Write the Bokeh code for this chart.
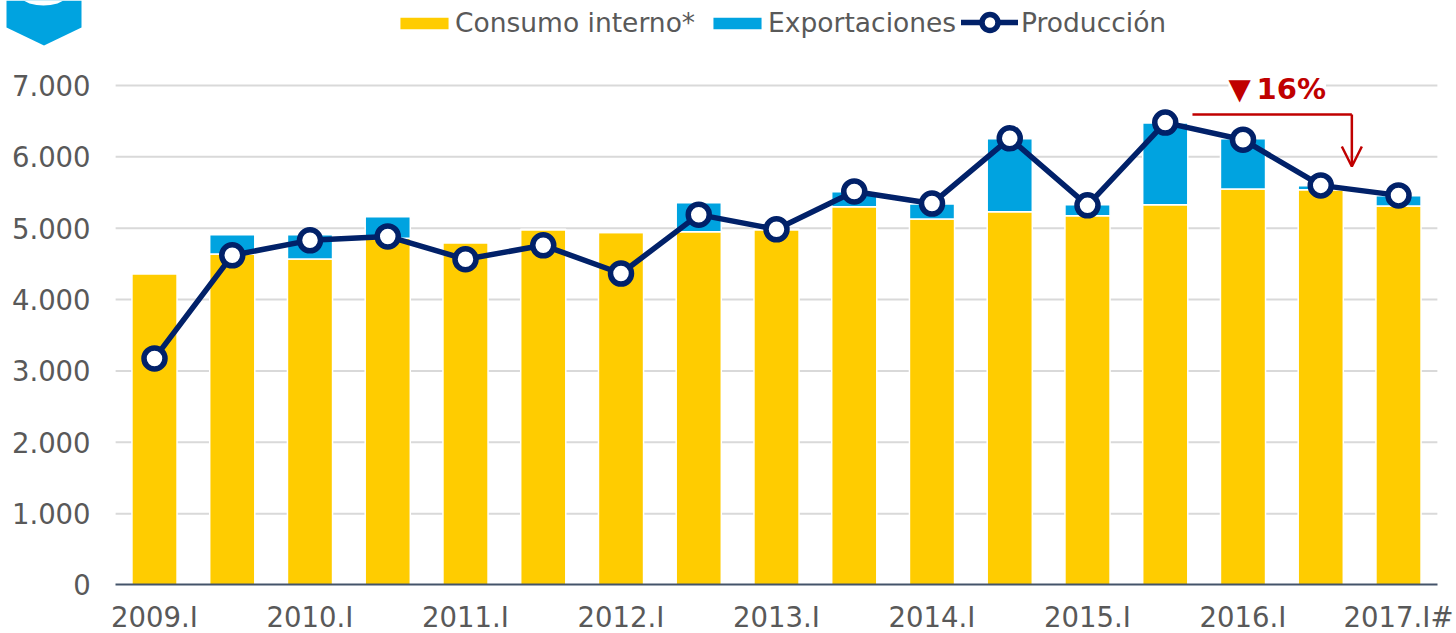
from bokeh.plotting import figure
from bokeh.models import (ColumnDataSource, Legend, LegendItem, FixedTicker, Label, Arrow, OpenHead,
                          PolyAnnotation, Range1d)
from bokeh.embed import file_html
from bokeh.resources import INLINE

periods = ["2009.I","2009.II","2010.I","2010.II","2011.I","2011.II","2012.I","2012.II","2013.I",
           "2013.II","2014.I","2014.II","2015.I","2015.II","2016.I","2016.II","2017.I#"]
consumo = [4360,4640,4570,4860,4795,4980,4940,4950,4980,5300,5130,5230,5175,5330,5550,5540,5310]
exportaciones = [0,270,340,300,5,5,5,405,5,210,210,1025,155,1145,705,55,145]
produccion = [3175,4620,4830,4885,4565,4760,4365,5190,4985,5515,5345,6260,5320,6480,6240,5600,5460]
yticks = [0,1000,2000,3000,4000,5000,6000,7000]
ylabels = ["0","1.000","2.000","3.000","4.000","5.000","6.000","7.000"]
bracket_x = [13.35,15.4]
bracket_y = [6593,6593]
arrow_end_y = 5865

YEL, BLU, NAVY, RED, GREY = "#ffcc00", "#00a3e0", "#012169", "#c00000", "#595959"
FONT = "DejaVu Sans"
idx = list(range(len(periods)))

W, H = 1456, 633
p = figure(width=W, height=H, output_backend="svg", toolbar_location=None,
           x_range=Range1d(-1.9807,16.746), y_range=Range1d(-679.7,8191),
           min_border_left=0, min_border_right=0, min_border_top=0, min_border_bottom=0,
           outline_line_color=None, background_fill_color="white")

src = ColumnDataSource(dict(x=idx, consumo=consumo, exportaciones=exportaciones, produccion=produccion))
gridlines = ColumnDataSource(dict(x0=[idx[0]-0.5]*7, x1=[idx[-1]+0.5]*7, y=yticks[1:]))
p.segment("x0","y","x1","y",source=gridlines,line_color="#d9d9d9",line_width=2)
stack = p.vbar_stack(["consumo","exportaciones"], x="x", width=0.58, source=src,
                     color=[YEL,BLU], line_color="white", line_width=1.5)
ln = p.line("x","produccion",source=src,line_color=NAVY,line_width=5.5,line_cap="round")
mk = p.scatter("x","produccion",source=src,size=21,marker="circle",fill_color="white",
               line_color=NAVY,line_width=5.5)

p.xaxis.ticker = FixedTicker(ticks=idx[::2])
p.xaxis.major_label_overrides = {i: periods[i] for i in idx[::2]}
p.xaxis.fixed_location = 0
p.xaxis.bounds = (idx[0]-0.5, idx[-1]+0.5)
p.yaxis.ticker = FixedTicker(ticks=yticks)
p.yaxis.major_label_overrides = {t: l for t,l in zip(yticks,ylabels)}
p.yaxis.fixed_location = idx[0]-0.5
for ax in (p.xaxis[0], p.yaxis[0]):
    ax.major_label_text_font = FONT
    ax.major_label_text_font_size = "27.5px"
    ax.major_label_text_color = GREY
    ax.major_tick_line_color = None
    ax.minor_tick_line_color = None
p.yaxis.axis_line_color = None
p.xaxis.axis_line_color = "#44546a"
p.xaxis.axis_line_width = 2
p.xaxis.major_label_standoff = 10
p.yaxis.major_label_standoff = 19
p.xgrid.visible = False
p.ygrid.visible = False

leg_common = dict(orientation="horizontal", border_line_color=None, background_fill_alpha=0,
                  label_text_font=FONT, label_text_font_size="26.5px", label_text_color=GREY,
                  padding=0, margin=0)
p.add_layout(Legend(items=[LegendItem(label="Consumo interno*",renderers=[stack[0]]),
                           LegendItem(label="Exportaciones",renderers=[stack[1]])],
                    location=(393,595), glyph_width=62, glyph_height=16, spacing=11, label_standoff=0,
                    **leg_common),"center")
p.add_layout(Legend(items=[LegendItem(label="Producción",renderers=[ln,mk])],
                    location=(961,591), glyph_width=57, glyph_height=40, label_standoff=3,
                    **leg_common),"center")

p.line(bracket_x,bracket_y,line_color=RED,line_width=2.5)
p.add_layout(Arrow(end=OpenHead(line_color=RED,line_width=2.5,size=20),x_start=bracket_x[1],y_start=bracket_y[1],
                   x_end=bracket_x[1],y_end=arrow_end_y,line_color=RED,line_width=2.5))
p.add_layout(Label(x=14.44,y=7000,text="▼\u200916%",text_font=FONT,text_font_style="bold",text_font_size="29px",
                   text_color=RED,text_align="center",text_baseline="middle",
                   background_fill_color="white",x_offset=0,y_offset=-4))

# Logo badge at the top-left corner (screen units measured from the frame's lower left corner)
p.add_layout(PolyAnnotation(xs=[6,81,81,43.5,6],ys=[H,H,H-27,H-45,H-27],xs_units="screen",ys_units="screen",
                            fill_color=BLU,fill_alpha=1,line_color=None,level="overlay"))
p.add_layout(PolyAnnotation(xs=[23,63,57,50,43,36,29],ys=[H,H,H-3,H-4.5,H-5,H-4.5,H-3],xs_units="screen",ys_units="screen",
                            fill_color="white",fill_alpha=1,line_color=None,level="overlay"))

open("out.html","w").write(file_html(p,INLINE))
